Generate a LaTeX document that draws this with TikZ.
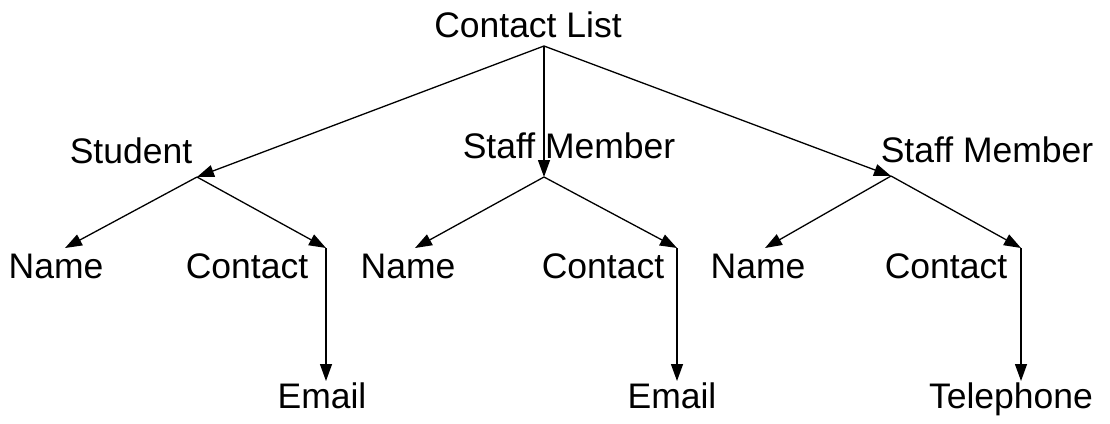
\documentclass[tikz,border=0pt]{standalone}
\usepackage{fontspec}
\setmainfont{Liberation Sans}
\usetikzlibrary{arrows.meta}
\begin{document}
\begin{tikzpicture}[x=1pt,y=-1pt,
  lbl/.style={anchor=base,inner sep=0pt,font=\fontsize{35.5}{40}\selectfont},
  link/.style={line width=1.3pt,-{Triangle[length=17pt,width=12pt]}}]
\useasboundingbox (0,0) rectangle (1110,423);

% labels
\node[lbl] (root) at (528,37) {Contact List};
\node[lbl] (stu)  at (131,163) {Student};
\node[lbl] (sm1)  at (569,158) {Staff Member};
\node[lbl] (sm2)  at (987,162) {Staff Member};
\node[lbl] (n1) at (56,278) {Name};
\node[lbl] (c1) at (247,278) {Contact};
\node[lbl] (n2) at (408,278) {Name};
\node[lbl] (c2) at (603,278) {Contact};
\node[lbl] (n3) at (758,278) {Name};
\node[lbl] (c3) at (946,278) {Contact};
\node[lbl] (e1) at (322,408) {Email};
\node[lbl] (e2) at (672,408) {Email};
\node[lbl] (t3) at (1011,408) {Telephone};

% branching points
\coordinate (p0) at (544,46);
\coordinate (j1) at (197,177);
\coordinate (j2) at (544,177);
\coordinate (j3) at (891,176);
\coordinate (a1) at (65,248);
\coordinate (b1) at (326,248);
\coordinate (a2) at (415,248);
\coordinate (b2) at (677,248);
\coordinate (a3) at (765,248);
\coordinate (b3) at (1021,248);
\coordinate (d1) at (326,381);
\coordinate (d2) at (677,381);
\coordinate (d3) at (1021,381);

% connectors
\draw[link] (p0) -- (j1);
\draw[link] (p0) -- (j2);
\draw[link] (p0) -- (j3);
\draw[link] (j1) -- (a1);
\draw[link] (j1) -- (b1);
\draw[link] (j2) -- (a2);
\draw[link] (j2) -- (b2);
\draw[link] (j3) -- (a3);
\draw[link] (j3) -- (b3);
\draw[link] (b1) -- (d1);
\draw[link] (b2) -- (d2);
\draw[link] (b3) -- (d3);
\end{tikzpicture}
\end{document}
